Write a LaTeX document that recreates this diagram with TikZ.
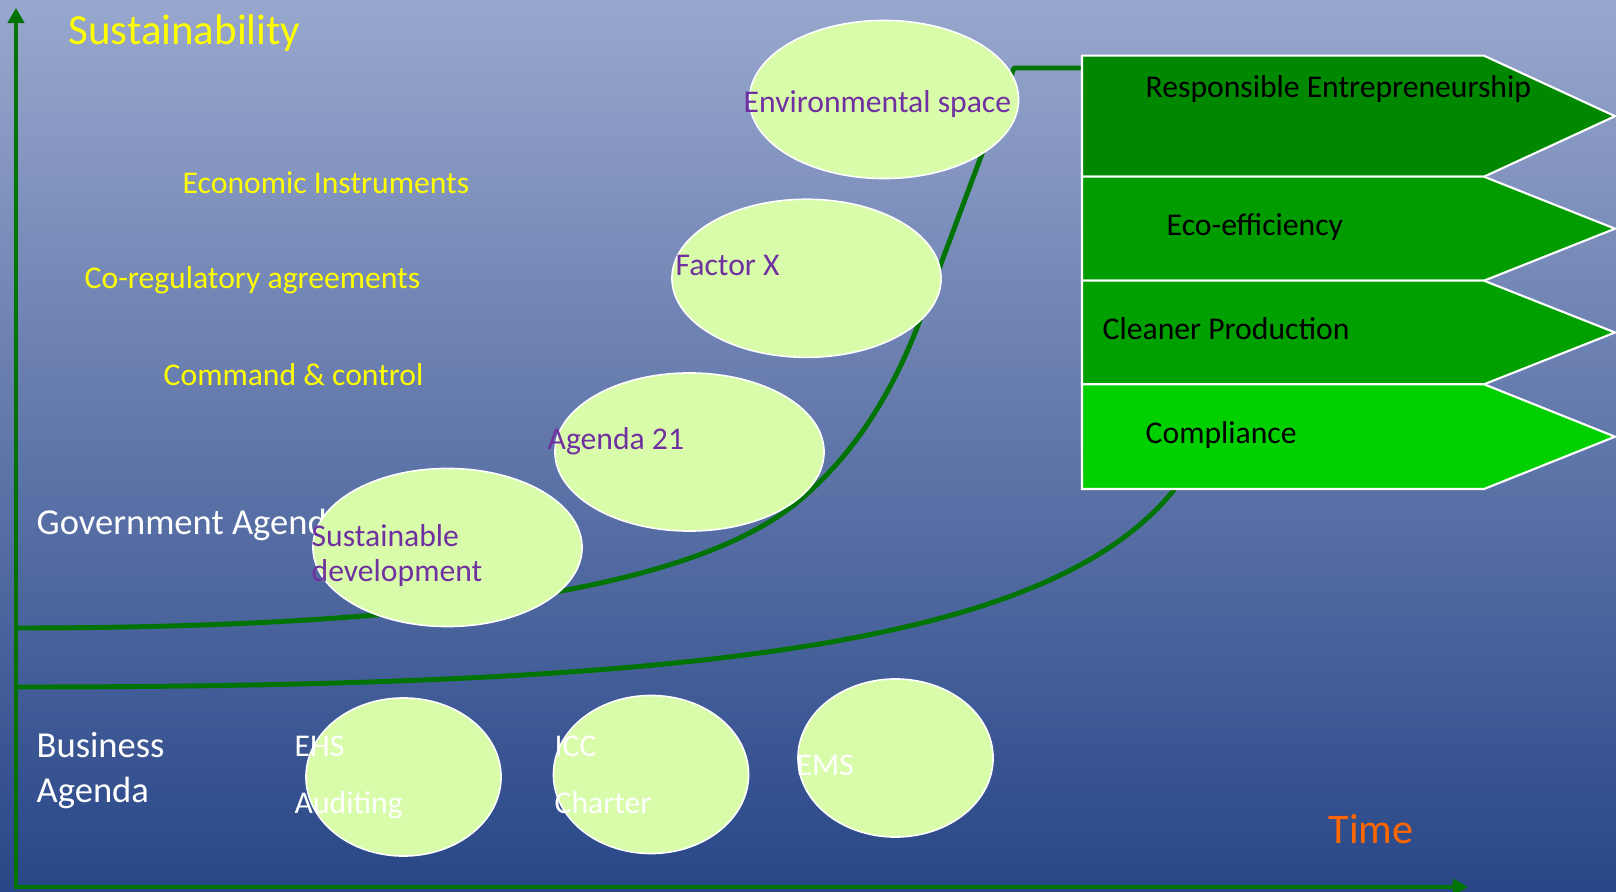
\documentclass[tikz,border=0pt]{standalone}
\usepackage{fontspec}
\setmainfont{Carlito}
\usetikzlibrary{shapes.geometric,arrows.meta}
\definecolor{axisgreen}{RGB}{0,115,0}
\definecolor{ellfill}{RGB}{216,252,170}
\definecolor{purp}{RGB}{112,48,160}
\definecolor{yel}{RGB}{255,255,0}
\definecolor{timeorange}{RGB}{255,102,0}
\definecolor{boxA}{RGB}{0,137,0}
\definecolor{boxB}{RGB}{0,156,0}
\definecolor{boxC}{RGB}{0,160,0}
\definecolor{boxD}{RGB}{0,208,0}
\definecolor{bgtop}{RGB}{152,167,205}
\definecolor{bgmid}{RGB}{100,124,174}
\definecolor{bgbot}{RGB}{40,70,135}
\begin{document}
\begin{tikzpicture}[x=0.01cm,y=-0.01cm,
  lbl/.style={anchor=base west, inner sep=0pt, font=\fontsize{9}{10.8}\selectfont},
  biglbl/.style={lbl, font=\fontsize{10.4}{12.5}\selectfont},
  ell/.style={ellipse, draw=white, line width=0.45pt, fill=ellfill, inner sep=0pt},
  govell/.style={ell, minimum width=2.69cm, minimum height=1.58cm},
  busell/.style={ell, minimum width=1.95cm, minimum height=1.58cm},
  axisline/.style={draw=axisgreen, line width=1.3pt},
  trend/.style={draw=axisgreen, line width=1.4pt, line join=round},
  chevron/.style={draw=white, line width=0.6pt},
]
\useasboundingbox (0,0) rectangle (1616,892);
\fill[top color=bgtop, middle color=bgmid, bottom color=bgbot] (0,0) rectangle (1616,892);

% axes
\coordinate (ytip) at (16,8);
\coordinate (orig) at (16,887);
\coordinate (xtip) at (1468,887);
\draw[axisline, {Triangle[width=4.6pt,length=4.3pt]}-{Triangle[width=4.6pt,length=4.3pt]}] (ytip) -- (orig) -- (xtip);

% axis and side labels
\node[lbl, text=yel, font=\fontsize{12.2}{14}\selectfont] (sus) at (68,45) {Sustainability};
\node[lbl, text=yel] (econ) at (182,194) {Economic Instruments};
\node[lbl, text=yel] (coreg) at (84,289) {Co-regulatory agreements};
\node[lbl, text=yel] (cmd) at (163,386) {Command \& control};
\node[biglbl, text=white] (gov) at (36,535) {Government Agenda};
\node[biglbl, text=white] (bus1) at (36,758) {Business};
\node[biglbl, text=white] (bus2) at (36,802) {Agenda};
\node[lbl, text=timeorange, font=\fontsize{12}{14}\selectfont] (time) at (1328,843) {Time};

% trend curves
\coordinate (g0) at (16,628);
\coordinate (g1) at (800,500);
\coordinate (g2) at (920,320);
\coordinate (g3) at (1014,68);
\coordinate (g4) at (1083,68);
\draw[trend] (g0) .. controls (450,628) and (700,585) .. (g1)
  .. controls (840,466) and (885,413) .. (g2) -- (g3) -- (g4);
\coordinate (b0) at (16,687);
\coordinate (b1) at (1180,482);
\draw[trend] (b0) .. controls (700,687) and (1060,645) .. (b1);

% government ellipses
\node[govell] (env) at (884,99.5) {};
\node[govell] (fx) at (806.5,278.3) {};
\node[govell] (a21) at (689.5,452) {};
\node[govell] (sd) at (447.5,547.5) {};
\node[lbl, text=purp] (envt) at (743,113) {Environmental space};
\node[lbl, text=purp] (fxt) at (675,276) {Factor X};
\node[lbl, text=purp] (a21t) at (547,450) {Agenda 21};
\node[lbl, text=purp] (sdt1) at (311,547) {Sustainable};
\node[lbl, text=purp] (sdt2) at (311,582) {development};

% business ellipses
\node[busell] (ehs) at (403.5,777) {};
\node[busell] (icc) at (651,774.5) {};
\node[busell] (ems) at (895.5,758) {};
\node[lbl, text=white] (ehs1) at (294,756) {EHS};
\node[lbl, text=white] (ehs2) at (294,813) {Auditing};
\node[lbl, text=white] (icc1) at (554,756) {ICC};
\node[lbl, text=white] (icc2) at (554,813) {Charter};
\node[lbl, text=white] (emst) at (796,775) {EMS};

% chevrons
\fill[boxA, chevron] (1082,55.7) -- (1484,55.7) -- (1615,116.2) -- (1484,176.7) -- (1082,176.7) -- cycle;
\fill[boxB, chevron] (1082,176.7) -- (1484,176.7) -- (1615,228.7) -- (1484,280.7) -- (1082,280.7) -- cycle;
\fill[boxC, chevron] (1082,280.7) -- (1484,280.7) -- (1615,332.5) -- (1484,384.3) -- (1082,384.3) -- cycle;
\fill[boxD, chevron] (1082,384.3) -- (1484,384.3) -- (1615,436.7) -- (1484,489) -- (1082,489) -- cycle;
\node[lbl, text=black] (re) at (1145,98) {Responsible Entrepreneurship};
\node[lbl, text=black] (ee) at (1166,236) {Eco-efficiency};
\node[lbl, text=black] (cp) at (1102,340) {Cleaner Production};
\node[lbl, text=black] (co) at (1145,444) {Compliance};
\end{tikzpicture}
\end{document}
